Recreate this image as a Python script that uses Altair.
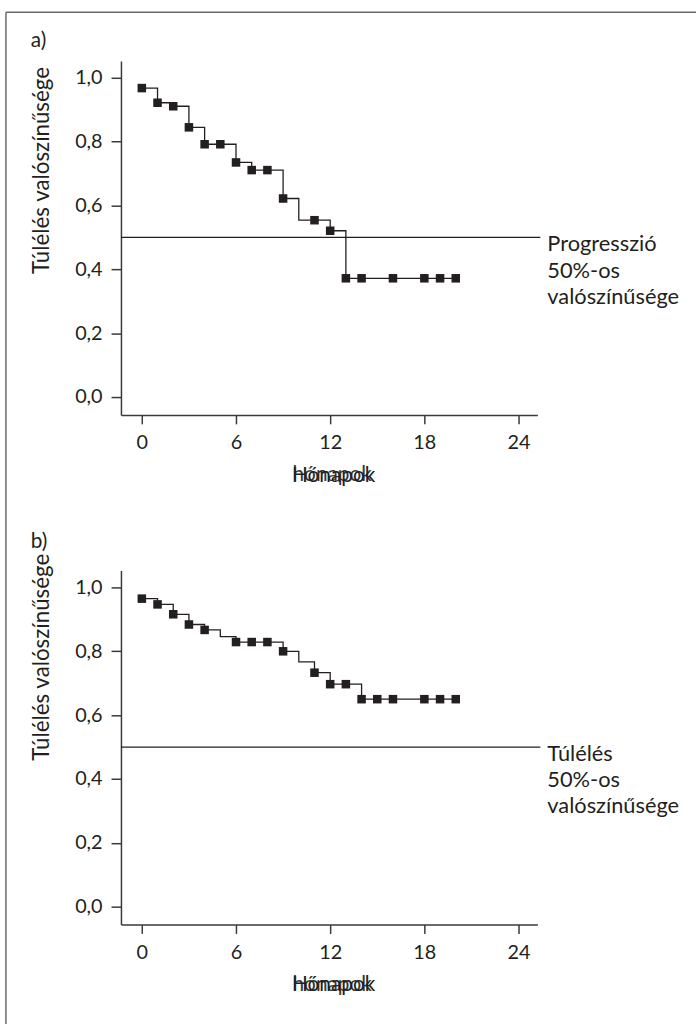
import altair as alt
import pandas as pd

FONT = "Lato"
INK = "#231f20"
AXIS_INK = "#3a3a3a"

# ---- data ----
months_a = [0, 1, 2, 3, 4, 5, 6, 7, 8, 9, 10, 11, 12, 13, 14, 16, 18, 19, 20]
surv_a = [0.968, 0.922, 0.911, 0.845, 0.792, 0.792, 0.735, 0.711, 0.711, 0.622,
          0.554, 0.554, 0.521, 0.372, 0.372, 0.372, 0.372, 0.372, 0.372]
marker_a = [1, 1, 1, 1, 1, 1, 1, 1, 1, 1, 0, 1, 1, 1, 1, 1, 1, 1, 1]

months_b = [0, 1, 2, 3, 4, 5, 6, 7, 8, 9, 10, 11, 12, 13, 14, 15, 16, 18, 19, 20]
surv_b = [0.965, 0.947, 0.916, 0.884, 0.867, 0.846, 0.829, 0.829, 0.829, 0.800,
          0.767, 0.733, 0.697, 0.697, 0.650, 0.650, 0.650, 0.650, 0.650, 0.650]
marker_b = [1, 1, 1, 1, 1, 0, 1, 1, 1, 1, 0, 1, 1, 1, 1, 1, 1, 1, 1, 1]

threshold = [0.5]
x_ticks = [0, 6, 12, 18, 24]
y_ticks = [0.0, 0.2, 0.4, 0.6, 0.8, 1.0]
note_a = ["Progresszió", "50%-os", "valószínűsége"]
note_b = ["Túlélés", "50%-os", "valószínűsége"]
y_title = "Túlélés valószínűsége"
x_title = "Hónapok"
x_title_dup = "hónapok"

W, H = 420, 357
GAP = 157


def panel(months, surv, marker, tag, tag_y, note, title_y):
    df = pd.DataFrame({"m": months, "s": surv, "mk": marker})
    thr = pd.DataFrame({"y": threshold})
    xs = alt.Scale(domain=[-1.33, 25.2], nice=False, zero=False)
    ys = alt.Scale(domain=[-0.056, 1.053], nice=False, zero=False)
    xax = alt.Axis(values=x_ticks, title=x_title, grid=False,
                   tickSize=9, labelPadding=9, labelFontSize=20, labelFont=FONT,
                   labelColor=INK, domainColor=AXIS_INK, tickColor=AXIS_INK,
                   domainWidth=1.5, tickWidth=1.5, titleFont=FONT, titleFontSize=21,
                   titleFontWeight="normal", titleColor=INK, titleY=67,
                   titleBaseline="alphabetic", titleAlign="left", titleX=172)
    yax = alt.Axis(values=y_ticks, title=y_title, grid=False,
                   labelExpr="replace(format(datum.value, '.1f'), '.', ',')",
                   tickSize=10, labelPadding=9, labelFontSize=20, labelFont=FONT,
                   labelColor=INK, domainColor=AXIS_INK, tickColor=AXIS_INK,
                   domainWidth=1.5, tickWidth=1.5, titleFont=FONT, titleFontSize=22.5,
                   titleFontWeight="normal", titleColor=INK, titleX=-80, titleY=title_y,
                   titleBaseline="middle", titleAlign="center", titleAngle=270)
    base = alt.Chart(df)
    line = base.mark_line(interpolate="step-after", color=INK, strokeWidth=1.3).encode(
        x=alt.X("m:Q", scale=xs, axis=xax), y=alt.Y("s:Q", scale=ys, axis=yax))
    pts = base.transform_filter("datum.mk == 1").mark_square(
        size=74, color=INK, opacity=1).encode(x=alt.X("m:Q", scale=xs), y=alt.Y("s:Q", scale=ys))
    rule = alt.Chart(thr).mark_rule(color=INK, strokeWidth=1.3).encode(
        y=alt.Y("y:Q", scale=ys), x=alt.value(0), x2=alt.value(W + 3))
    txt = alt.Chart(thr).mark_text(align="left", baseline="middle", lineHeight=26.5, dy=7,
                                   fontSize=22, font=FONT, color=INK).encode(
        y=alt.Y("y:Q", scale=ys), x=alt.value(W + 10), text=alt.value(note))
    tag_t = alt.Chart(thr).mark_text(align="left", baseline="middle", fontSize=21,
                                     font=FONT, color=INK).encode(
        x=alt.value(-91), y=alt.value(tag_y), text=alt.value(tag))
    dup = alt.Chart(thr).mark_text(align="left", baseline="alphabetic", fontSize=21,
                                   font=FONT, color=INK, opacity=0.9).encode(
        x=alt.value(173), y=alt.value(H + 67), text=alt.value(x_title_dup))
    return [line, pts, rule, txt, tag_t, dup]


layers_a = panel(months_a, surv_a, marker_a, "a)", -20, note_a, 110)
layers_b = panel(months_b, surv_b, marker_b, "b)", -29, note_b, 87)

border = pd.DataFrame({"y": threshold})
top_line = alt.Chart(border).mark_rule(color="#6a6a6a", strokeWidth=1.5).encode(
    x=alt.value(-116), x2=alt.value(580), y=alt.value(-49))
left_line = alt.Chart(border).mark_rule(color="#6a6a6a", strokeWidth=1.5).encode(
    x=alt.value(-116), y=alt.value(-49), y2=alt.value(H + GAP + H + 110))

pa = alt.layer(*layers_a, top_line, left_line).properties(width=W, height=H)
pb = alt.layer(*layers_b).properties(width=W, height=H)

chart = alt.vconcat(pa, pb, spacing=GAP, bounds="flush").properties(
    padding={"left": 5, "top": 7, "right": 0, "bottom": 0},
    background="white",
).configure_view(strokeWidth=0, stroke="transparent")

chart.save("out.html", embed_options={"renderer": "svg", "actions": False})
